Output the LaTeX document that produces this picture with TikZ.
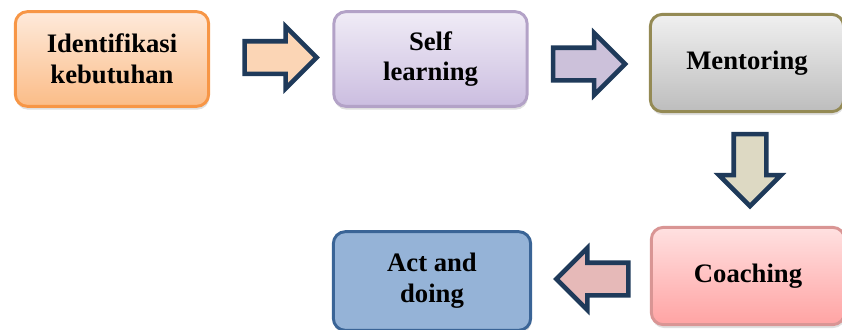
\documentclass[tikz,border=0pt]{standalone}
\usepackage{fontspec}
\setmainfont{Liberation Serif}
\usetikzlibrary{shapes.arrows,shadows}

\definecolor{arrowline}{HTML}{1F3A5A}
\definecolor{orangeline}{HTML}{F79646}
\definecolor{orangetop}{HTML}{FEEADB}
\definecolor{orangebot}{HTML}{FBBC87}
\definecolor{orangearrow}{HTML}{FBD5B5}
\definecolor{purpleline}{HTML}{B3A2C7}
\definecolor{purpletop}{HTML}{F0ECF6}
\definecolor{purplebot}{HTML}{CBBDE0}
\definecolor{purplearrow}{HTML}{CCC1DA}
\definecolor{grayline}{HTML}{948A54}
\definecolor{graytop}{HTML}{F0F0F0}
\definecolor{graybot}{HTML}{BDBDBD}
\definecolor{tanarrow}{HTML}{DDD9C3}
\definecolor{pinkline}{HTML}{D99594}
\definecolor{pinktop}{HTML}{FFE1E1}
\definecolor{pinkbot}{HTML}{FFA3A3}
\definecolor{pinkarrow}{HTML}{E6B9B8}
\definecolor{blueline}{HTML}{3A6496}
\definecolor{bluefill}{HTML}{95B3D7}

\begin{document}
\begin{tikzpicture}[
                x=0.75pt, y=-0.75pt,
                every node/.style={font=\bfseries\fontsize{20}{23}\selectfont, align=center},
                box/.style={rounded corners=9pt, line width=2.2pt, minimum width=145pt, minimum height=71pt,
                    drop shadow={shadow xshift=0.5pt, shadow yshift=-2.5pt, opacity=0.25}},
                blockarrow/.style={single arrow, draw=arrowline, line width=3.4pt, inner xsep=0pt, inner ysep=10.5pt,
                    minimum height=54pt, single arrow head extend=11pt}
            ]
            \useasboundingbox (0,0) rectangle (842,329);

            \node[box, draw=orangeline, top color=orangetop, bottom color=orangebot] (needs) at (112,59) {Identifikasi\\kebutuhan};
            \node[box, draw=purpleline, top color=purpletop, bottom color=purplebot] (self) at (430.5,59) {Self\\learning};
            \node[box, draw=grayline, top color=graytop, bottom color=graybot, minimum height=73pt] (mentor) at (747,63) {Mentoring};
            \node[box, draw=pinkline, top color=pinktop, bottom color=pinkbot, minimum height=73pt] (coach) at (748,276) {Coaching};
            \node[box, draw=blueline, fill=bluefill, minimum width=148pt, minimum height=74pt] (act) at (432,281) {Act and\\doing};

            \node[blockarrow, fill=orangearrow] (needs2self) at (272.5,57.5) {};
            \node[blockarrow, fill=purplearrow] (self2mentor) at (581,64) {};
            \node[blockarrow, fill=tanarrow, rotate=-90] (mentor2coach) at (750,162) {};
            \node[blockarrow, fill=pinkarrow, rotate=180] (coach2act) at (600.5,279) {};

        \end{tikzpicture}
\end{document}
